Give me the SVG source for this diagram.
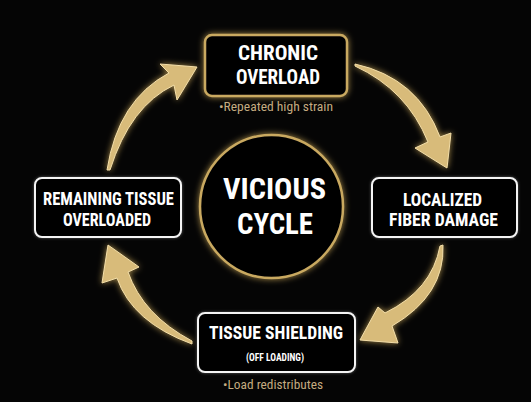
<svg xmlns="http://www.w3.org/2000/svg" width="531" height="402" viewBox="0 0 531 402">
  <defs>
    <filter id="goldGlow" x="-30%" y="-30%" width="160%" height="160%">
      <feGaussianBlur in="SourceAlpha" stdDeviation="3" result="b"/>
      <feFlood flood-color="#d9b35e" flood-opacity="0.75"/>
      <feComposite in2="b" operator="in" result="g"/>
      <feMerge><feMergeNode in="g"/><feMergeNode in="SourceGraphic"/></feMerge>
    </filter>
    <filter id="whiteGlow" x="-20%" y="-30%" width="140%" height="160%">
      <feGaussianBlur in="SourceAlpha" stdDeviation="1.5" result="b"/>
      <feFlood flood-color="#ffffff" flood-opacity="0.35"/>
      <feComposite in2="b" operator="in" result="g"/>
      <feMerge><feMergeNode in="g"/><feMergeNode in="SourceGraphic"/></feMerge>
    </filter>
    <style>
      .title { font-family: "Roboto Condensed","Liberation Sans Narrow","DejaVu Sans Condensed","Liberation Sans",sans-serif; font-weight: bold; fill: #ffffff; text-anchor: middle; }
      .sub { font-family: "Roboto Condensed","Liberation Sans Narrow","DejaVu Sans Condensed","Liberation Sans",sans-serif; fill: #c4ab80; text-anchor: middle; }
      .box { fill: #030303; stroke: #f4f4f4; stroke-width: 2; }
      .goldbox { fill: #030303; stroke: #c9a961; stroke-width: 2.5; }
      .arrow { fill: #d8bb7a; stroke: #f3dea8; stroke-width: 1; stroke-linejoin: round; }
    </style>
  </defs>
  <rect width="531" height="402" fill="#050505"/>

  <g id="connectors" filter="url(#goldGlow)">
    <path class="arrow" d="M355,64 Q418,78 440,137 L451,133 L447,168 L415,148 L428,142 Q407,90 355,66 Z"/>
    <path class="arrow" d="M443,245 Q445,295 392,326 L398,343 L360,340 L378,307 L385,313 Q432,290 440,246 Z"/>
    <path class="arrow" d="M192,344 Q132,322 117,278 L102,283 L108,245 L139,267 L128,272 Q143,315 192,341 Z"/>
    <path class="arrow" d="M107,170 Q118,100 169,73 L160,64 L197,67 L177,100 L174,85 Q130,106 110,170 Z"/>
  </g>

  <g id="center">
    <circle cx="271.5" cy="206.5" r="71.5" fill="#020202" stroke="#c9a961" stroke-width="2.5" filter="url(#goldGlow)"/>
    <text class="title" x="274.5" y="199" font-size="29" textLength="103" lengthAdjust="spacingAndGlyphs">VICIOUS</text>
    <text class="title" x="275" y="234" font-size="29" textLength="76" lengthAdjust="spacingAndGlyphs">CYCLE</text>
  </g>

  <g id="chronic-overload">
    <rect class="goldbox" x="205" y="35" width="142" height="61" rx="7" filter="url(#goldGlow)"/>
    <text class="title" x="278" y="60" font-size="20" textLength="80" lengthAdjust="spacingAndGlyphs">CHRONIC</text>
    <text class="title" x="278" y="84" font-size="20" textLength="84" lengthAdjust="spacingAndGlyphs">OVERLOAD</text>
    <text class="sub" x="276" y="111" font-size="12.5" textLength="114" lengthAdjust="spacingAndGlyphs">•Repeated high strain</text>
  </g>

  <g id="localized-fiber-damage">
    <rect class="box" x="372" y="178" width="145" height="59" rx="7" filter="url(#whiteGlow)"/>
    <text class="title" x="442.5" y="206" font-size="18.5" textLength="79" lengthAdjust="spacingAndGlyphs">LOCALIZED</text>
    <text class="title" x="443.5" y="226" font-size="18.5" textLength="109" lengthAdjust="spacingAndGlyphs">FIBER DAMAGE</text>
  </g>

  <g id="tissue-shielding">
    <rect class="box" x="198" y="313" width="157" height="59" rx="7" filter="url(#whiteGlow)"/>
    <text class="title" x="276" y="339" font-size="18.5" textLength="134" lengthAdjust="spacingAndGlyphs">TISSUE SHIELDING</text>
    <text class="title" x="275" y="361" font-size="11" textLength="58" lengthAdjust="spacingAndGlyphs" font-weight="normal">(OFF LOADING)</text>
    <text class="sub" x="273" y="389" font-size="13" textLength="100" lengthAdjust="spacingAndGlyphs">•Load redistributes</text>
  </g>

  <g id="remaining-tissue-overloaded">
    <rect class="box" x="35" y="178" width="146" height="59" rx="7" filter="url(#whiteGlow)"/>
    <text class="title" x="108.5" y="205" font-size="18.5" textLength="131" lengthAdjust="spacingAndGlyphs">REMAINING TISSUE</text>
    <text class="title" x="107" y="226" font-size="18.5" textLength="88" lengthAdjust="spacingAndGlyphs">OVERLOADED</text>
  </g>
</svg>
